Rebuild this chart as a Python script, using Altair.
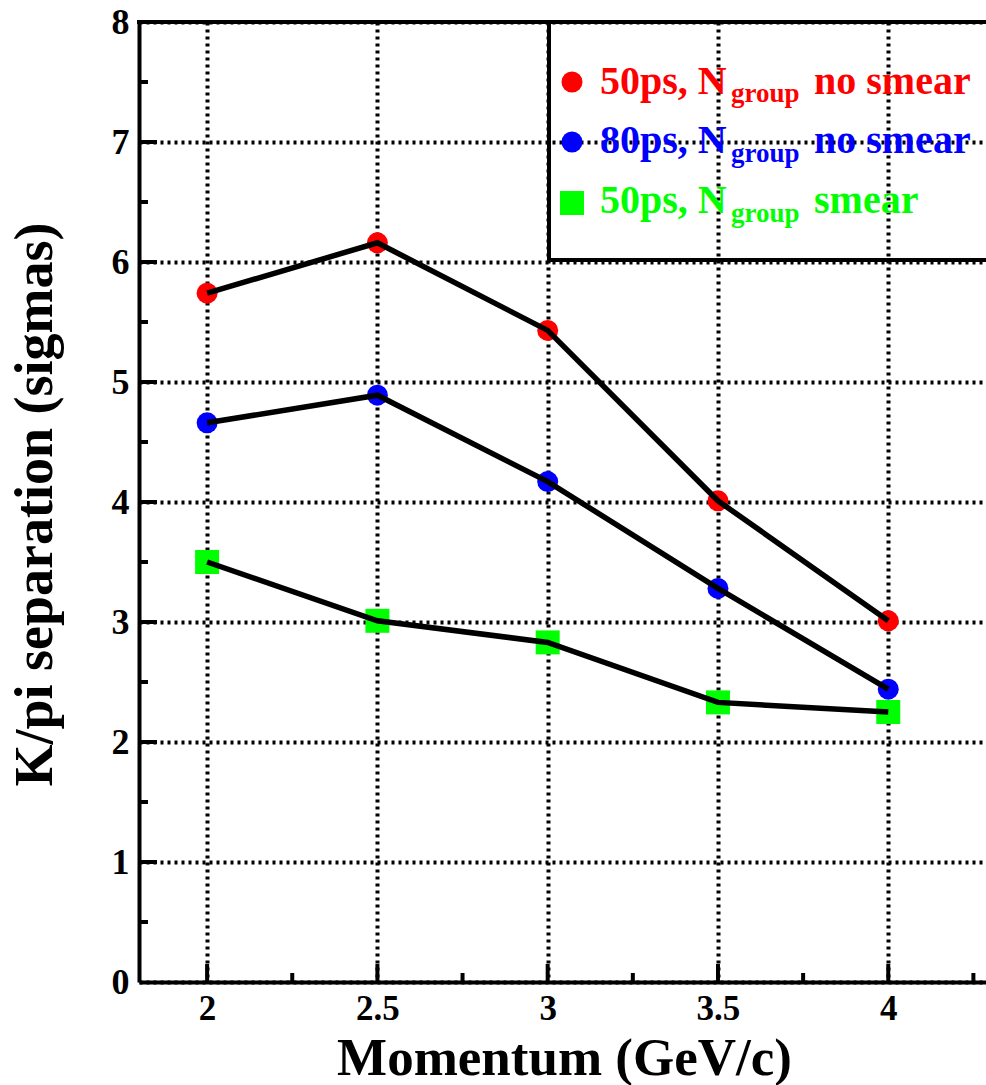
import altair as alt
import pandas as pd

# ---- data ----
momentum = [2.0, 2.5, 3.0, 3.5, 4.0]
sep_50ps_nosmear = [5.74, 6.16, 5.43, 4.01, 3.01]
sep_80ps_nosmear = [4.66, 4.89, 4.17, 3.28, 2.44]
sep_50ps_smear = [3.50, 3.01, 2.83, 2.33, 2.25]

series_names = ["50ps no smear", "80ps no smear", "50ps smear"]
series_colors = ["#ff0000", "#0000ff", "#00ff00"]

legend_main = ["50ps, N", "80ps, N", "50ps, N"]
legend_sub = ["group", "group", "group"]
legend_tail = ["no smear", "no smear", "smear"]

x_major = [2.0, 2.5, 3.0, 3.5, 4.0]
x_minor = [2.25, 2.75, 3.25, 3.75, 4.25]
y_major = [0, 1, 2, 3, 4, 5, 6, 7, 8]
y_minor = [0.5, 1.5, 2.5, 3.5, 4.5, 5.5, 6.5, 7.5]

FONT = "Liberation Serif"
W, H = 847, 960

rows = []
for name, vals in zip(series_names, [sep_50ps_nosmear, sep_80ps_nosmear, sep_50ps_smear]):
    for m, v in zip(momentum, vals):
        rows.append({"series": name, "x": m, "y": v})
df = pd.DataFrame(rows)

xs = alt.Scale(domain=[1.8, 4.287], nice=False, zero=False)
ys = alt.Scale(domain=[0, 8], nice=False, zero=True)
col_scale = alt.Scale(domain=series_names, range=series_colors)

x_axis = alt.Axis(
    values=x_major, format="~g", title="Momentum (GeV/c)",
    grid=True, gridColor="black", gridDash=[3, 4], gridWidth=4, gridOpacity=1,
    ticks=False, tickSize=0, domain=True, domainColor="black", domainWidth=4,
    labelFont=FONT, labelFontWeight="bold", labelFontSize=35, labelColor="black",
    labelPadding=9, labelOverlap=False, labelFlush=False,
    titleFont=FONT, titleFontWeight="bold", titleFontSize=53, titleColor="black",
    titleX=425, titleY=92, titleAlign="center", titleBaseline="alphabetic",
)
y_axis = alt.Axis(
    values=y_major, format="d", title="K/pi separation (sigmas)",
    grid=True, gridColor="black", gridDash=[3, 4], gridWidth=4, gridOpacity=1,
    ticks=False, tickSize=0, domain=True, domainColor="black", domainWidth=4,
    labelFont=FONT, labelFontWeight="bold", labelFontSize=36, labelColor="black",
    labelPadding=10, labelOverlap=False, labelFlush=False,
    titleFont=FONT, titleFontWeight="bold", titleFontSize=54, titleColor="black",
    titleAngle=270, titleX=-88, titleY=482, titleAlign="center", titleBaseline="alphabetic",
)

X = lambda f: alt.X(f, scale=xs, axis=x_axis)
Y = lambda f: alt.Y(f, scale=ys, axis=y_axis)

circles = alt.Chart(df[df.series != "50ps smear"]).mark_circle(size=440, opacity=1).encode(
    x=X("x:Q"), y=Y("y:Q"),
    color=alt.Color("series:N", scale=col_scale, legend=None),
)
squares = alt.Chart(df[df.series == "50ps smear"]).mark_square(size=576, opacity=1).encode(
    x=X("x:Q"), y=Y("y:Q"),
    color=alt.Color("series:N", scale=col_scale, legend=None),
)

lines = alt.Chart(df).mark_line(color="black", strokeWidth=5.5).encode(
    x=X("x:Q"), y=Y("y:Q"), detail="series:N",
)

# inward axis ticks
ymaj = alt.Chart(pd.DataFrame({"v": y_major[1:-1]})).mark_rule(color="black", strokeWidth=4).encode(
    y=Y("v:Q"), x=alt.value(0), x2=alt.value(18))
ymin = alt.Chart(pd.DataFrame({"v": y_minor})).mark_rule(color="black", strokeWidth=4).encode(
    y=Y("v:Q"), x=alt.value(0), x2=alt.value(9))
xmaj = alt.Chart(pd.DataFrame({"v": x_major})).mark_rule(color="black", strokeWidth=4).encode(
    x=X("v:Q"), y=alt.value(H), y2=alt.value(H - 18))
xmin = alt.Chart(pd.DataFrame({"v": x_minor})).mark_rule(color="black", strokeWidth=4).encode(
    x=X("v:Q"), y=alt.value(H), y2=alt.value(H - 9))

# top frame line and legend box
frame = pd.DataFrame({"x0": [0, 410, 410], "x1": [W, W, 410], "y0": [0, 238, 0], "y1": [0, 238, 238]})
box = alt.Chart(frame).mark_rule(color="black", strokeWidth=4, strokeCap="square").encode(
    x=alt.X("x0:Q", scale=None), x2="x1:Q", y=alt.Y("y0:Q", scale=None), y2="y1:Q")

# legend
leg = pd.DataFrame({
    "series": series_names,
    "main": legend_main, "sub": legend_sub, "tail": legend_tail,
    "my": [60, 120, 181],
    "by": [72, 131, 191],
    "sy": [80, 140, 200],
})
leg_circ = alt.Chart(leg[leg.series != "50ps smear"]).mark_circle(size=440, opacity=1).encode(
    x=alt.value(433), y=alt.Y("my:Q", scale=None),
    color=alt.Color("series:N", scale=col_scale, legend=None))
leg_sq = alt.Chart(leg[leg.series == "50ps smear"]).mark_square(size=576, opacity=1).encode(
    x=alt.value(433), y=alt.Y("my:Q", scale=None),
    color=alt.Color("series:N", scale=col_scale, legend=None))
leg_main = alt.Chart(leg).mark_text(font=FONT, fontWeight="bold", fontSize=40, align="left", baseline="alphabetic").encode(
    x=alt.value(461), y=alt.Y("by:Q", scale=None), text="main:N",
    color=alt.Color("series:N", scale=col_scale, legend=None))
leg_sub = alt.Chart(leg).mark_text(font=FONT, fontWeight="bold", fontSize=27, align="left", baseline="alphabetic").encode(
    x=alt.value(592), y=alt.Y("sy:Q", scale=None), text="sub:N",
    color=alt.Color("series:N", scale=col_scale, legend=None))
leg_tail = alt.Chart(leg).mark_text(font=FONT, fontWeight="bold", fontSize=40, align="left", baseline="alphabetic").encode(
    x=alt.value(675), y=alt.Y("by:Q", scale=None), text="tail:N",
    color=alt.Color("series:N", scale=col_scale, legend=None))

chart = alt.layer(
    circles, squares, lines, ymaj, ymin, xmaj, xmin, box,
    leg_circ, leg_sq, leg_main, leg_sub, leg_tail
).properties(
    width=W, height=H,
    autosize=alt.AutoSizeParams(type="none"),
    padding={"left": 139, "top": 22, "right": 0, "bottom": 103},
    background="white",
).configure_view(stroke=None)

chart.save("out.html", embed_options={"renderer": "svg", "actions": False})
